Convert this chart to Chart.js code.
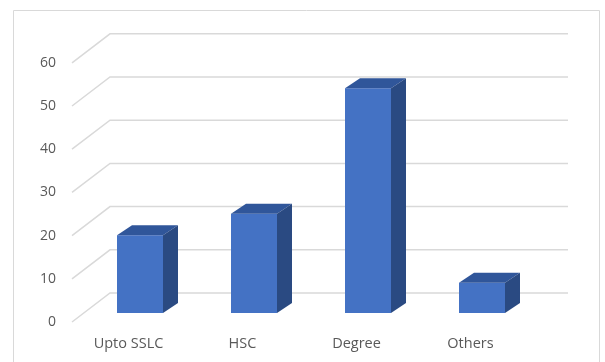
<!DOCTYPE html>
<html>
<head>
<meta charset="utf-8">
<script src="https://cdn.jsdelivr.net/npm/chart.js@4.4.1/dist/chart.umd.min.js"></script>
<style>
  html, body { margin: 0; padding: 0; background: #ffffff; }
  #wrap { width: 605px; height: 362px; position: relative; }
</style>
</head>
<body>
<div id="wrap"><canvas id="c" width="605" height="362"></canvas></div>
<script>
const categories = ["Upto SSLC", "HSC", "Degree", "Others"];
const values = [18, 23, 52, 7];
const yTicks = [0, 10, 20, 30, 40, 50, 60];

const FRONT = '#4472C4', TOP = '#30569A', SIDE = '#2A4A82', GRID = '#D9D9D9';
const BD = { dx: 15, dy: -10 };   // bar depth
const FL = { front: 9, back: -20, fx: 72, bx: 110, ex: 568 }; // floor/wall geometry

const threeD = {
  id: 'threeD',
  beforeDraw(chart) {
    const ctx = chart.ctx;
    ctx.save();
    ctx.strokeStyle = GRID;
    ctx.lineWidth = 1;
    ctx.beginPath();
    ctx.moveTo(13.5, 362);
    ctx.lineTo(13.5, 10.5);
    ctx.lineTo(599.5, 10.5);
    ctx.lineTo(599.5, 362);
    ctx.stroke();
    const ys = chart.scales.y;
    ctx.lineWidth = 1.5;
    yTicks.forEach(v => {
      const yb = ys.getPixelForValue(v);
      ctx.beginPath();
      ctx.moveTo(FL.fx, yb + FL.front);
      ctx.lineTo(FL.bx, yb + FL.back);
      ctx.lineTo(FL.ex, yb + FL.back);
      ctx.stroke();
    });
    ctx.restore();
  },
  afterDatasetsDraw(chart) {
    const ctx = chart.ctx;
    const meta = chart.getDatasetMeta(0);
    ctx.save();
    meta.data.forEach(bar => {
      const p = bar.getProps(['x', 'y', 'base', 'width'], true);
      const l = p.x - p.width / 2, r = p.x + p.width / 2, t = p.y, b = p.base;
      ctx.fillStyle = TOP;
      ctx.beginPath();
      ctx.moveTo(l, t); ctx.lineTo(r, t); ctx.lineTo(r + BD.dx, t + BD.dy); ctx.lineTo(l + BD.dx, t + BD.dy);
      ctx.closePath(); ctx.fill();
      ctx.fillStyle = SIDE;
      ctx.beginPath();
      ctx.moveTo(r, t); ctx.lineTo(r + BD.dx, t + BD.dy); ctx.lineTo(r + BD.dx, b + BD.dy); ctx.lineTo(r, b);
      ctx.closePath(); ctx.fill();
    });
    ctx.restore();
  }
};

new Chart(document.getElementById('c'), {
  type: 'bar',
  data: {
    labels: categories,
    datasets: [{
      data: values,
      backgroundColor: FRONT,
      borderWidth: 0,
      barPercentage: 1,
      categoryPercentage: 46 / 114
    }]
  },
  options: {
    responsive: false,
    animation: false,
    devicePixelRatio: 1,
    layout: { padding: { top: 53.8, right: 66, bottom: 0, left: 0 } },
    plugins: { legend: { display: false }, tooltip: { enabled: false }, title: { display: false } },
    scales: {
      x: {
        grid: { display: false, drawTicks: false },
        border: { display: false },
        ticks: { color: '#595959', font: { family: 'Open Sans', size: 14.5 }, padding: 22, labelOffset: -11.5, maxRotation: 0 },
        afterFit: s => { s.height = 49; }
      },
      y: {
        min: 0, max: 60,
        afterBuildTicks: s => { s.ticks = yTicks.map(v => ({ value: v })); },
        grid: { display: false, drawTicks: false },
        border: { display: false },
        ticks: { color: '#595959', font: { family: 'Open Sans', size: 14 }, padding: 27, labelOffset: 9 },
        afterFit: s => { s.width = 83; }
      }
    }
  },
  plugins: [threeD]
});
</script>
</body>
</html>
